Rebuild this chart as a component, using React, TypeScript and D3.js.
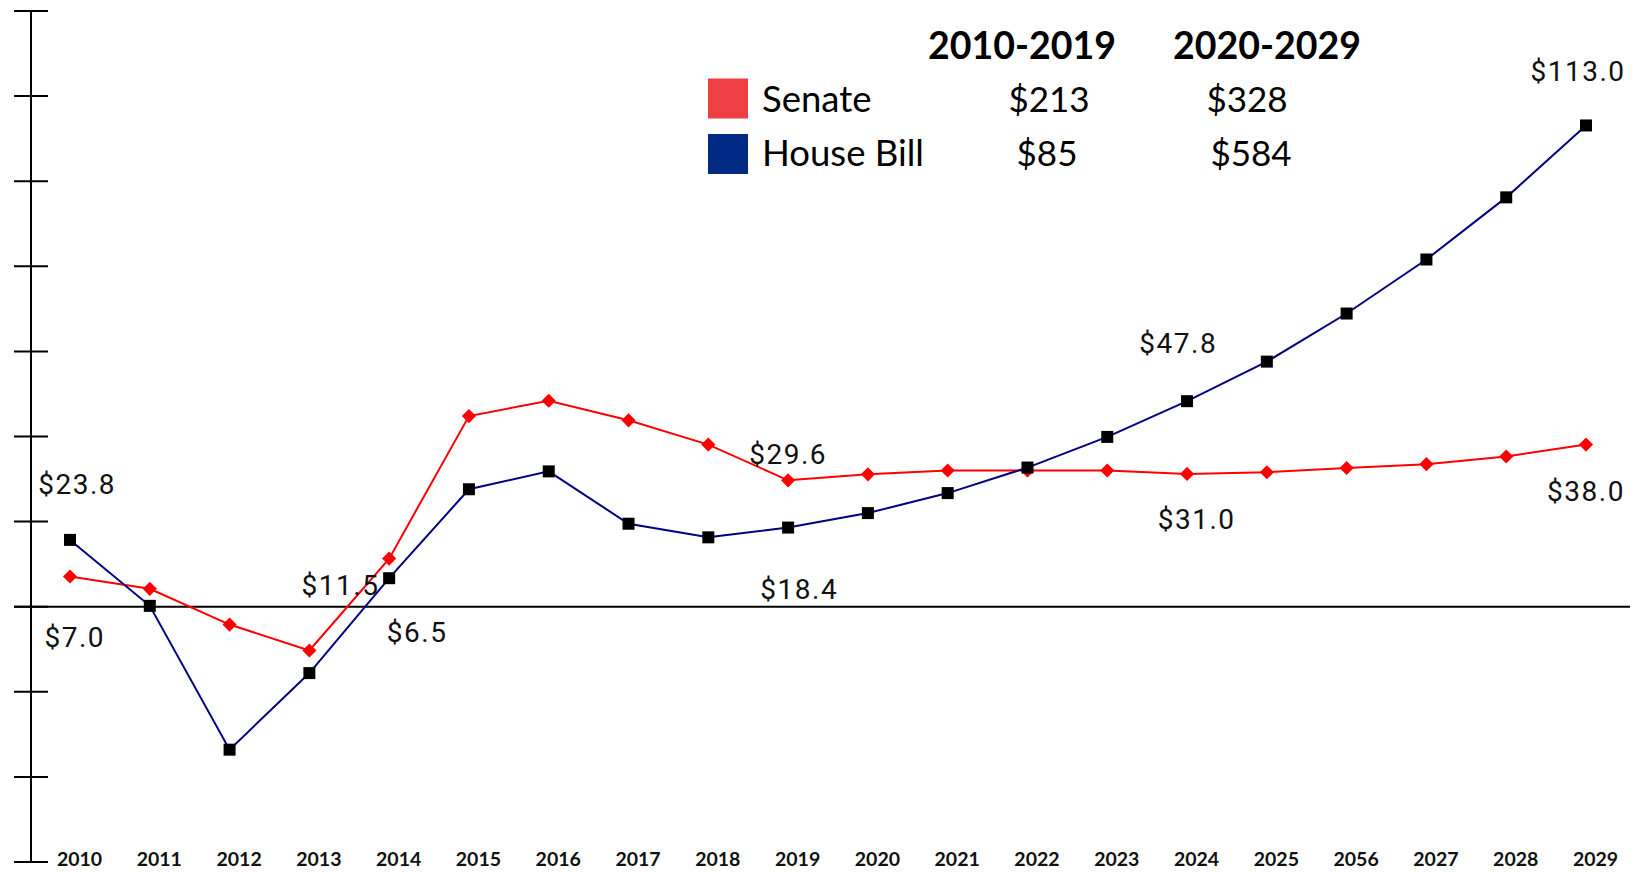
import React from "react";
import * as d3 from "d3";

const years = [2010, 2011, 2012, 2013, 2014, 2015, 2016, 2017, 2018, 2019, 2020, 2021, 2022, 2023, 2024, 2025, 2026, 2027, 2028, 2029];
const yearLabels = ["2010", "2011", "2012", "2013", "2014", "2015", "2016", "2017", "2018", "2019", "2020", "2021", "2022", "2023", "2024", "2025", "2056", "2027", "2028", "2029"];
const senate = [7.1, 4.2, -4.2, -10.3, 11.3, 44.8, 48.4, 43.8, 38.1, 29.7, 31.1, 32.0, 32.0, 32.0, 31.2, 31.6, 32.6, 33.5, 35.3, 38.1];
const house = [15.7, 0.2, -33.6, -15.6, 6.7, 27.6, 31.8, 19.5, 16.3, 18.6, 22.0, 26.7, 32.7, 39.9, 48.3, 57.6, 68.9, 81.6, 96.2, 113.1];
const yTicks = [-60, -40, -20, 0, 20, 40, 60, 80, 100, 120, 140];

// annotation text with anchor location in data space (year, value)
const annotations = [
  { text: "$23.8", year: 2010.09, value: 26.5 },
  { text: "$7.0", year: 2010.06, value: -9.5 },
  { text: "$11.5", year: 2013.39, value: 2.7 },
  { text: "$6.5", year: 2014.35, value: -8.3 },
  { text: "$29.6", year: 2019.0, value: 33.5 },
  { text: "$18.4", year: 2019.14, value: 1.8 },
  { text: "$47.8", year: 2023.89, value: 59.6 },
  { text: "$31.0", year: 2024.12, value: 18.2 },
  { text: "$113.0", year: 2028.9, value: 123.5 },
  { text: "$38.0", year: 2029.0, value: 24.8 },
];

const legendHeaders = ["2010-2019", "2020-2029"];
const legendSeries = ["Senate", "House Bill"];
const legendSenate = ["$213", "$328"];
const legendHouse = ["$85", "$584"];

export default function App() {
  const W = 1642;
  const H = 872;
  const x = d3.scaleLinear().domain([2010, 2029]).range([70, 1586]);
  const y = d3.scaleLinear().domain([-60, 140]).range([862, 11]);

  const line = d3
    .line<number>()
    .x((_, i) => x(years[i]))
    .y((d) => y(d));

  const senateColor = "#ff0000";
  const houseColor = "#000080";
  const labelFont = "Roboto, 'Noto Sans', sans-serif";
  const legendFont = "Lato, 'Open Sans', sans-serif";

  return (
    <svg
      width={W}
      height={H}
      style={{ position: "absolute", left: 0, top: 0, background: "#fff" }}
    >
      <rect x={0} y={0} width={W} height={H} fill="#fff" />
      {/* y axis */}
      <line x1={31} x2={31} y1={y(140)} y2={y(-60)} stroke="#000" strokeWidth={2} />
      {yTicks.map((t) => (
        <line key={t} x1={14} x2={48} y1={y(t)} y2={y(t)} stroke="#000" strokeWidth={2} />
      ))}
      {/* zero line */}
      <line x1={14} x2={1630} y1={y(0)} y2={y(0)} stroke="#000" strokeWidth={2} />

      {/* year labels */}
      {years.map((yr, i) => (
        <text
          key={yr}
          x={x(yr) + 9.5}
          y={866}
          textAnchor="middle"
          fontFamily={legendFont}
          fontWeight={700}
          fontSize={19.5}
          fill="#111"
        >
          {yearLabels[i]}
        </text>
      ))}

      {/* Senate */}
      <path d={line(senate) || ""} fill="none" stroke={senateColor} strokeWidth={2} />
      {senate.map((v, i) => (
        <rect
          key={"s" + i}
          x={-5}
          y={-5}
          width={10}
          height={10}
          fill={senateColor}
          transform={`translate(${x(years[i])},${y(v)}) rotate(45)`}
        />
      ))}

      {/* House */}
      <path d={line(house) || ""} fill="none" stroke={houseColor} strokeWidth={2} />
      {house.map((v, i) => (
        <rect
          key={"h" + i}
          x={x(years[i]) - 6}
          y={y(v) - 6}
          width={12}
          height={12}
          fill="#000"
        />
      ))}

      {/* annotations */}
      {annotations.map((a) => (
        <text
          key={a.text}
          x={x(a.year)}
          y={y(a.value)}
          textAnchor="middle"
          fontFamily={labelFont}
          fontSize={28}
          letterSpacing={1.5}
          fill="#111"
        >
          {a.text}
        </text>
      ))}

      {/* legend */}
      <g fontFamily={legendFont} fill="#000">
        <text x={1022} y={59} textAnchor="middle" fontWeight={700} fontSize={37.5}>
          {legendHeaders[0]}
        </text>
        <text x={1267} y={59} textAnchor="middle" fontWeight={700} fontSize={37.5}>
          {legendHeaders[1]}
        </text>
        <rect x={708} y={78.5} width={40} height={40} fill="#ee4044" />
        <rect x={708} y={134} width={40} height={40} fill="#002a84" />
        <text x={762} y={112} fontSize={36.5}>
          {legendSeries[0]}
        </text>
        <text x={762} y={166} fontSize={36.5}>
          {legendSeries[1]}
        </text>
        <text x={1049} y={112} textAnchor="middle" fontSize={35}>
          {legendSenate[0]}
        </text>
        <text x={1247} y={112} textAnchor="middle" fontSize={35}>
          {legendSenate[1]}
        </text>
        <text x={1047} y={166} textAnchor="middle" fontSize={35}>
          {legendHouse[0]}
        </text>
        <text x={1251} y={166} textAnchor="middle" fontSize={35}>
          {legendHouse[1]}
        </text>
      </g>
    </svg>
  );
}
